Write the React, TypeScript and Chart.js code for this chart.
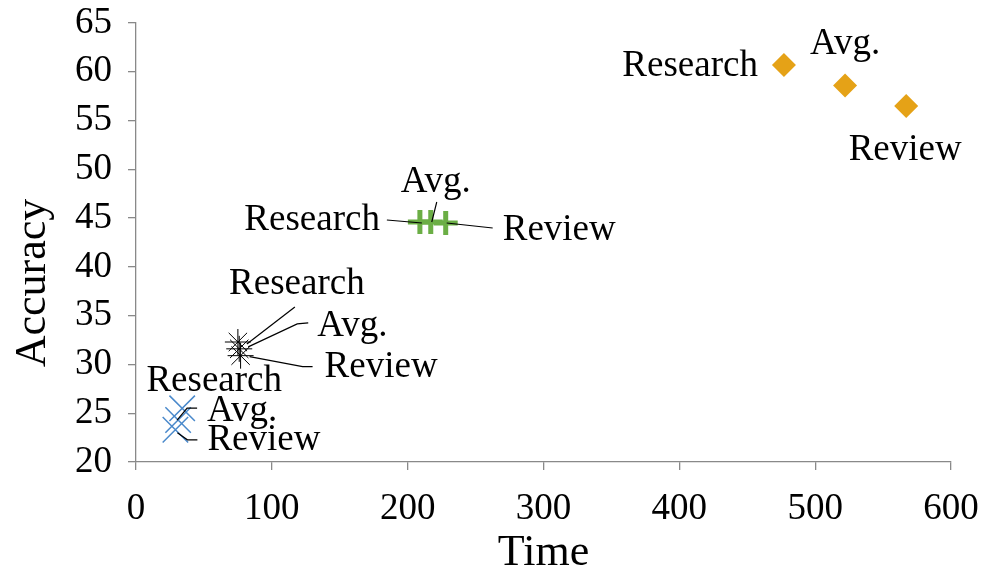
import React, { useEffect, useRef } from "react";
import { Chart, registerables } from "chart.js";

Chart.register(...registerables);

// ---- data ----
const pointNames = ["Research", "Avg.", "Review"];
const seriesBlueTime = [34, 31, 29];
const seriesBlueAcc = [25.5, 24.3, 23.3];
const seriesBlackTime = [75, 76, 77];
const seriesBlackAcc = [32.3, 31.6, 30.9];
const seriesGreenTime = [209, 217, 228];
const seriesGreenAcc = [44.6, 44.6, 44.5];
const seriesOrangeTime = [477, 522, 567];
const seriesOrangeAcc = [60.7, 58.6, 56.5];
const xTicks = [0, 100, 200, 300, 400, 500, 600];
const yTicks = [20, 25, 30, 35, 40, 45, 50, 55, 60, 65];
const xTitle = "Time";
const yTitle = "Accuracy";

// ---- label layout (pixel offsets from each point; styling only) ----
type LabelPos = { dx: number; dy: number; align: CanvasTextAlign; leader?: number[][] };
const blueLabels: LabelPos[] = [
  { dx: 32, dy: -27, align: "center" },
  { dx: 29, dy: -9, align: "left", leader: [[19, -12], [9, -12], [-1, 0]] },
  { dx: 32, dy: 10, align: "left", leader: [[22, 10], [12, 10], [2, 3]] },
];
const blackLabels: LabelPos[] = [
  { dx: 59, dy: -58, align: "center", leader: [[57, -35], [9, 2]] },
  { dx: 78, dy: -23, align: "left", leader: [[69, -26], [58, -25], [9, -2]] },
  { dx: 84, dy: 12, align: "left", leader: [[72, 11], [62, 11], [9, 1]] },
];
const greenLabels: LabelPos[] = [
  { dx: -40, dy: -2, align: "right", leader: [[-33, -2], [2, 1]] },
  { dx: 5, dy: -40, align: "center", leader: [[6, -20], [1, 0]] },
  { dx: 57, dy: 7, align: "left", leader: [[1, 0], [47, 5]] },
];
const orangeLabels: LabelPos[] = [
  { dx: -26, dy: 1, align: "right" },
  { dx: 0, dy: -41, align: "center" },
  { dx: -1, dy: 44, align: "center" },
];
const allLabels = [blueLabels, blackLabels, greenLabels, orangeLabels];

const FONT = "'Liberation Serif', 'Times New Roman', serif";
const AXIS_GRAY = "#898989";

function toPoints(xs: number[], ys: number[]) {
  return xs.map((x, i) => ({ x, y: ys[i] }));
}

const labelPlugin = {
  id: "pointLabels",
  afterDatasetsDraw(chart: any) {
    const ctx = chart.ctx as CanvasRenderingContext2D;
    ctx.save();
    allLabels.forEach((labels, di) => {
      const meta = chart.getDatasetMeta(di);
      labels.forEach((lp, pi) => {
        const el = meta.data[pi];
        if (!el) return;
        const px = el.x;
        const py = el.y;
        if (lp.leader) {
          ctx.beginPath();
          ctx.strokeStyle = "#000";
          ctx.lineWidth = 1.2;
          lp.leader.forEach((p, k) => {
            if (k === 0) ctx.moveTo(px + p[0], py + p[1]);
            else ctx.lineTo(px + p[0], py + p[1]);
          });
          ctx.stroke();
        }
        ctx.fillStyle = "#000";
        ctx.font = `37px ${FONT}`;
        ctx.textAlign = lp.align;
        ctx.textBaseline = "middle";
        ctx.fillText(pointNames[pi], px + lp.dx, py + lp.dy);
      });
    });
    // axis titles
    const area = chart.chartArea;
    ctx.font = `44px ${FONT}`;
    ctx.fillStyle = "#000";
    ctx.textAlign = "center";
    ctx.textBaseline = "alphabetic";
    ctx.fillText(xTitle, (area.left + area.right) / 2, 565);
    ctx.save();
    ctx.translate(45, 283);
    ctx.rotate(-Math.PI / 2);
    ctx.fillText(yTitle, 0, 0);
    ctx.restore();
    ctx.restore();
  },
};

export default function App() {
  const ref = useRef<HTMLCanvasElement | null>(null);
  useEffect(() => {
    document.body.style.margin = "0";
    const canvas = ref.current;
    if (!canvas) return;
    const chart = new Chart(canvas, {
      type: "scatter",
      data: {
        datasets: [
          {
            label: "Blue",
            data: toPoints(seriesBlueTime, seriesBlueAcc),
            pointStyle: "crossRot",
            pointRadius: 18,
            borderColor: "#4A89CB",
            backgroundColor: "#4A89CB",
            pointBorderWidth: 1.5,
          },
          {
            label: "Black",
            data: toPoints(seriesBlackTime, seriesBlackAcc),
            pointStyle: "star",
            pointRadius: 13,
            borderColor: "#000000",
            backgroundColor: "#000000",
            pointBorderWidth: 1,
          },
          {
            label: "Green",
            data: toPoints(seriesGreenTime, seriesGreenAcc),
            pointStyle: "cross",
            pointRadius: 12,
            borderColor: "#6BAE45",
            backgroundColor: "#6BAE45",
            pointBorderWidth: 5,
          },
          {
            label: "Orange",
            data: toPoints(seriesOrangeTime, seriesOrangeAcc),
            pointStyle: "rectRot",
            pointRadius: 12,
            borderColor: "#E5A217",
            backgroundColor: "#E5A217",
            pointBorderWidth: 0,
          },
        ],
      },
      options: {
        responsive: false,
        animation: false,
        layout: { padding: { top: 23, right: 46, left: 0, bottom: 0 } },
        plugins: { legend: { display: false }, tooltip: { enabled: false } },
        events: [],
        scales: {
          x: {
            type: "linear",
            min: xTicks[0],
            max: xTicks[xTicks.length - 1],
            afterBuildTicks: (s: any) => {
              s.ticks = xTicks.map((v) => ({ value: v }));
            },
            afterFit: (s: any) => {
              s.height = 116;
              s.paddingLeft = 0;
              s.paddingRight = 0;
            },
            grid: { drawOnChartArea: false, drawTicks: true, tickLength: 8, color: AXIS_GRAY, lineWidth: 1.3 },
            border: { color: AXIS_GRAY, width: 1.3 },
            ticks: { color: "#000", font: { family: FONT, size: 37 }, padding: 17, maxRotation: 0, autoSkip: false },
          },
          y: {
            type: "linear",
            min: yTicks[0],
            max: yTicks[yTicks.length - 1],
            afterBuildTicks: (s: any) => {
              s.ticks = yTicks.map((v) => ({ value: v }));
            },
            afterFit: (s: any) => {
              s.width = 136;
              s.paddingTop = 0;
              s.paddingBottom = 0;
            },
            grid: { drawOnChartArea: false, drawTicks: true, tickLength: 8, color: AXIS_GRAY, lineWidth: 1.3 },
            border: { color: AXIS_GRAY, width: 1.3 },
            ticks: { color: "#000", font: { family: FONT, size: 37 }, padding: 16, autoSkip: false },
          },
        },
      },
      plugins: [labelPlugin],
    });
    return () => chart.destroy();
  }, []);
  return (
    <div style={{ position: "fixed", left: 0, top: 0, width: 997, height: 578, background: "#fff" }}>
      <canvas ref={ref} width={997} height={578} />
    </div>
  );
}
